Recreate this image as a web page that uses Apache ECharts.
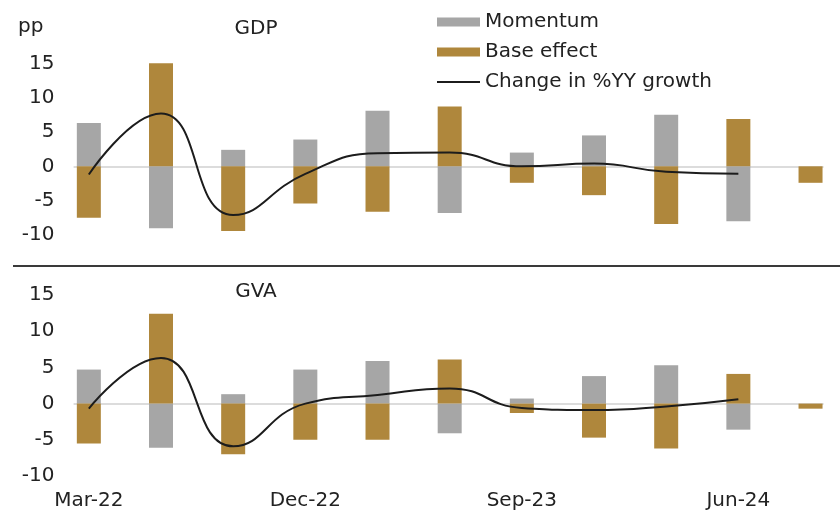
<!DOCTYPE html>
<html>
<head>
<meta charset="utf-8">
<script src="https://cdn.jsdelivr.net/npm/echarts@6/dist/echarts.min.js"></script>
<style>
  html, body { margin: 0; padding: 0; background: #fff; }
  #chart { width: 840px; height: 512px; }
</style>
</head>
<body>
<div id="chart"></div>
<script>
// quarters
const categories = ['Mar-22', 'Jun-22', 'Sep-22', 'Dec-22', 'Mar-23', 'Jun-23',
  'Sep-23', 'Dec-23', 'Mar-24', 'Jun-24', 'Sep-24'];
const labelIdx = [0, 3, 6, 9];

// GDP, pp
const gdpMomentum = [6.3, -9.0, 2.4, 3.9, 8.1, -6.8, 2.0, 4.5, 7.5, -8.0, null];
const gdpBase = [-7.5, 15.0, -9.4, -5.4, -6.6, 8.7, -2.4, -4.2, -8.4, 6.9, -2.4];
const gdpChange = [-1.2, 7.7, -7.1, -1.1, 1.9, 2.0, 0.0, 0.4, -0.8, -1.1, null];

// GVA, pp
const gvaMomentum = [4.7, -6.1, 1.3, 4.7, 5.9, -4.1, 0.7, 3.8, 5.3, -3.6, null];
const gvaBase = [-5.5, 12.4, -7.0, -5.0, -5.0, 6.1, -1.3, -4.7, -6.2, 4.1, -0.7];
const gvaChange = [-0.7, 6.3, -5.9, 0.0, 1.2, 2.1, -0.6, -0.9, -0.4, 0.6, null];

const FONT = 'DejaVu Sans';
const TXT = '#222';
const GREY = '#a6a6a6';
const GOLD = '#af873c';
const LINE = '#1c1c1c';

const pairs = arr => arr.map((v, i) => [i, v]);

const chart = echarts.init(document.getElementById('chart'));

const xBase = {
  type: 'value',
  min: -0.2,
  max: 10.17,
  splitLine: { show: false },
  axisTick: { show: false },
};

// axis used only to draw the light zero line
function zeroAxis(gridIndex) {
  return Object.assign({}, xBase, {
    gridIndex,
    position: 'top',
    axisLine: { show: true, onZero: true, lineStyle: { color: '#dcdcdc', width: 2 } },
    axisLabel: { show: false },
  });
}

function yAxis(gridIndex) {
  return {
    type: 'value',
    gridIndex,
    min: -10,
    max: 15,
    interval: 5,
    axisLine: { show: false },
    axisTick: { show: false },
    splitLine: { show: false },
    axisLabel: { color: TXT, fontFamily: FONT, fontSize: 20, margin: 20 },
  };
}

function panel(xi, yi, mom, base, chg, stack) {
  return [
    {
      name: 'Momentum', type: 'bar', xAxisIndex: xi, yAxisIndex: yi,
      stack, barWidth: 24, itemStyle: { color: GREY },
      data: pairs(mom),
    },
    {
      name: 'Base effect', type: 'bar', xAxisIndex: xi, yAxisIndex: yi,
      stack, barWidth: 24, itemStyle: { color: GOLD },
      data: pairs(base),
    },
    {
      name: 'Change in %YY growth', type: 'line', xAxisIndex: xi, yAxisIndex: yi,
      smooth: true, symbol: 'none', itemStyle: { color: LINE },
      lineStyle: { color: LINE, width: 2 },
      data: pairs(chg),
    },
  ];
}

chart.setOption({
  animation: false,
  textStyle: { fontFamily: FONT },
  legend: {
    orient: 'vertical',
    left: 432,
    top: 7,
    itemWidth: 43,
    itemHeight: 9,
    itemGap: 10,
    selectedMode: false,
    textStyle: { color: TXT, fontFamily: FONT, fontSize: 20, lineHeight: 20 },
    data: [
      { name: 'Momentum', icon: 'rect' },
      { name: 'Base effect', icon: 'rect' },
      { name: 'Change in %YY growth', icon: 'path://M0,0H43V2H0Z' },
    ],
  },
  grid: [
    { left: 74.4, right: 17.2, top: 63.3, height: 171.7 },
    { left: 74.4, right: 17.2, top: 295, height: 181 },
  ],
  xAxis: [
    zeroAxis(0),
    zeroAxis(1),
    Object.assign({}, xBase, {
      gridIndex: 1,
      position: 'bottom',
      axisLine: { show: false, onZero: false },
      axisLabel: {
        color: TXT, fontFamily: FONT, fontSize: 20, margin: 15,
        customValues: labelIdx,
        formatter: v => categories[Math.round(v)],
      },
    }),
  ],
  yAxis: [yAxis(0), yAxis(1)],
  series: [
    ...panel(0, 0, gdpMomentum, gdpBase, gdpChange, 'gdp'),
    ...panel(2, 1, gvaMomentum, gvaBase, gvaChange, 'gva'),
  ],
  graphic: [
    {
      type: 'line', silent: true,
      shape: { x1: 13, y1: 266, x2: 840, y2: 266 },
      style: { stroke: '#3a3a3a', lineWidth: 2 },
    },
    {
      type: 'text', x: 256, y: 29,
      style: { text: 'GDP', font: '20px "DejaVu Sans"', fill: TXT, textAlign: 'center', textVerticalAlign: 'middle' },
    },
    {
      type: 'text', x: 256, y: 292,
      style: { text: 'GVA', font: '20px "DejaVu Sans"', fill: TXT, textAlign: 'center', textVerticalAlign: 'middle' },
    },
    {
      type: 'text', x: 18, y: 27,
      style: { text: 'pp', font: '20px "DejaVu Sans"', fill: TXT, textAlign: 'left', textVerticalAlign: 'middle' },
    },
  ],
});
</script>
</body>
</html>
